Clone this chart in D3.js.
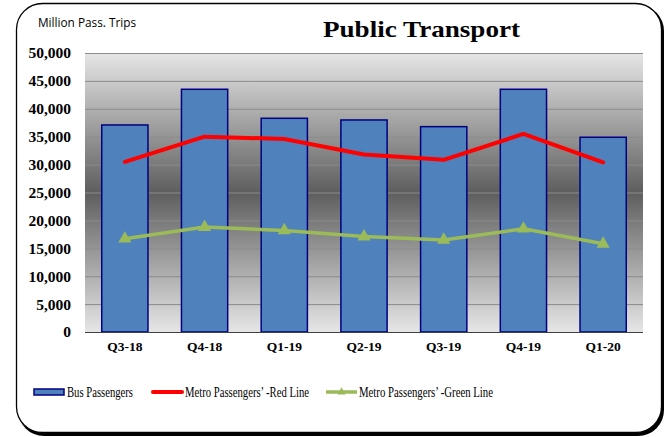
<!DOCTYPE html>
<html>
<head>
<meta charset="utf-8">
<script src="https://cdn.jsdelivr.net/npm/d3@7"></script>
<style>
  body { margin: 0; background: #fff; }
</style>
</head>
<body>
<div id="chart"></div>
<script>
// chart data
var quarters = ["Q3-18", "Q4-18", "Q1-19", "Q2-19", "Q3-19", "Q4-19", "Q1-20"];
var busPassengers = [37100, 43500, 38300, 38000, 36800, 43500, 34900];
var redLine = [30500, 35000, 34600, 31800, 30850, 35500, 30400];
var greenLine = [16700, 18800, 18200, 17100, 16500, 18500, 15800];
var yTicks = [0, 5000, 10000, 15000, 20000, 25000, 30000, 35000, 40000, 45000, 50000];

var svgWidth = 665;
var svgHeight = 437;

var chartMargin = { top: 53, right: 22, bottom: 105, left: 85 };
var chartWidth = svgWidth - chartMargin.left - chartMargin.right;
var chartHeight = svgHeight - chartMargin.top - chartMargin.bottom;

var serif = "'Liberation Serif', 'Times New Roman', serif";

var svg = d3.select("#chart")
    .append("svg")
    .attr("width", svgWidth)
    .attr("height", svgHeight);

// outer frame with shadow on right/bottom
svg.append("rect")
    .attr("x", 18).attr("y", 5)
    .attr("width", 646).attr("height", 431)
    .attr("rx", 26)
    .attr("fill", "#000");
svg.append("rect")
    .attr("x", 16.5).attr("y", 3.5)
    .attr("width", 645).attr("height", 429)
    .attr("rx", 26)
    .attr("fill", "#fff")
    .attr("stroke", "#000")
    .attr("stroke-width", 1.3);

// plot background gradient
var defs = svg.append("defs");
var grad = defs.append("linearGradient")
    .attr("id", "plotBg")
    .attr("x1", 0).attr("y1", 0).attr("x2", 0).attr("y2", 1);
grad.append("stop").attr("offset", "0%").attr("stop-color", "#e6e6e6");
grad.append("stop").attr("offset", "50%").attr("stop-color", "#5e5e5e");
grad.append("stop").attr("offset", "100%").attr("stop-color", "#e6e6e6");

var chartGroup = svg.append("g")
    .attr("transform", `translate(${chartMargin.left}, ${chartMargin.top})`);

chartGroup.append("rect")
    .attr("width", chartWidth)
    .attr("height", chartHeight)
    .attr("fill", "url(#plotBg)");

var xBandScale = d3.scaleBand()
    .domain(quarters)
    .range([0, chartWidth])
    .paddingInner(0.42)
    .paddingOuter(0.21);

var yLinearScale = d3.scaleLinear()
    .domain([0, 50000])
    .range([chartHeight, 0]);

// gridlines
chartGroup.append("g")
    .selectAll("line")
    .data(yTicks.filter(d => d > 0))
    .enter()
    .append("line")
    .attr("x1", 0)
    .attr("x2", chartWidth)
    .attr("y1", d => yLinearScale(d) + 0.5)
    .attr("y2", d => yLinearScale(d) + 0.5)
    .attr("stroke", "#8c8c8c")
    .attr("stroke-width", 1);

// y axis labels
var leftAxis = d3.axisLeft(yLinearScale)
    .tickValues(yTicks)
    .tickSize(0)
    .tickPadding(14)
    .tickFormat(d3.format(","));

var yAxis = chartGroup.append("g").call(leftAxis)
    .attr("font-family", null)
    .attr("font-size", null);
yAxis.select(".domain").remove();
yAxis.selectAll("text")
    .style("font-family", serif)
    .style("font-weight", "bold")
    .style("font-size", "15.5px")
    .attr("fill", "#000");

// bars
chartGroup.append("g").selectAll("rect")
    .data(busPassengers)
    .enter()
    .append("rect")
    .attr("x", (d, i) => xBandScale(quarters[i]))
    .attr("y", d => yLinearScale(d))
    .attr("width", xBandScale.bandwidth())
    .attr("height", d => chartHeight - yLinearScale(d))
    .attr("fill", "#4f81bd")
    .attr("stroke", "#000080")
    .attr("stroke-width", 1.5);

// x baseline
chartGroup.append("line")
    .attr("x1", 0).attr("x2", chartWidth)
    .attr("y1", chartHeight + 0.5).attr("y2", chartHeight + 0.5)
    .attr("stroke", "#404040")
    .attr("stroke-width", 1);

var bottomAxis = d3.axisBottom(xBandScale).tickSize(0).tickPadding(9);
var xAxis = chartGroup.append("g")
    .attr("transform", `translate(0, ${chartHeight})`)
    .call(bottomAxis)
    .attr("font-family", null)
    .attr("font-size", null);
xAxis.select(".domain").remove();
xAxis.selectAll("text")
    .style("font-family", serif)
    .style("font-weight", "bold")
    .style("font-size", "13.5px")
    .attr("fill", "#000");

var xCenter = (d, i) => xBandScale(quarters[i]) + xBandScale.bandwidth() / 2;

var lineGen = d3.line()
    .x(xCenter)
    .y(d => yLinearScale(d));

chartGroup.append("path")
    .datum(redLine)
    .attr("d", lineGen)
    .attr("fill", "none")
    .attr("stroke", "#ff0000")
    .attr("stroke-width", 4)
    .attr("stroke-linecap", "round")
    .attr("stroke-linejoin", "round");

chartGroup.append("path")
    .datum(greenLine)
    .attr("d", lineGen)
    .attr("fill", "none")
    .attr("stroke", "#9bbb59")
    .attr("stroke-width", 3.5)
    .attr("stroke-linejoin", "round");

var triangle = d3.symbol().type(d3.symbolTriangle).size(75);

chartGroup.append("g").selectAll("path")
    .data(greenLine)
    .enter()
    .append("path")
    .attr("d", triangle)
    .attr("transform", (d, i) => `translate(${xCenter(d, i)}, ${yLinearScale(d)})`)
    .attr("fill", "#9bbb59");

// titles
svg.append("text")
    .attr("x", 38).attr("y", 27)
    .style("font-family", "'Open Sans', 'Liberation Sans', sans-serif")
    .style("font-size", "11.8px")
    .attr("fill", "#000")
    .text("Million Pass. Trips");

svg.append("text")
    .attr("x", 323).attr("y", 37)
    .attr("textLength", 197)
    .attr("lengthAdjust", "spacingAndGlyphs")
    .style("font-family", serif)
    .style("font-weight", "bold")
    .style("font-size", "23px")
    .attr("fill", "#000")
    .text("Public Transport");

// legend
var legend = svg.append("g").attr("transform", "translate(0, 392)");

legend.append("rect")
    .attr("x", 34).attr("y", -3)
    .attr("width", 30).attr("height", 6)
    .attr("fill", "#4f81bd")
    .attr("stroke", "#000080")
    .attr("stroke-width", 1.5);
legend.append("text")
    .attr("x", 67).attr("y", 5)
    .attr("textLength", 66)
    .attr("lengthAdjust", "spacingAndGlyphs")
    .style("font-family", serif).style("font-size", "14px")
    .text("Bus Passengers");

legend.append("line")
    .attr("x1", 153).attr("x2", 182)
    .attr("stroke", "#ff0000").attr("stroke-width", 4)
    .attr("stroke-linecap", "round");
legend.append("text")
    .attr("x", 185).attr("y", 5)
    .attr("textLength", 124)
    .attr("lengthAdjust", "spacingAndGlyphs")
    .style("font-family", serif).style("font-size", "14px")
    .text("Metro Passengers\u2019 -Red Line");

legend.append("line")
    .attr("x1", 326).attr("x2", 357)
    .attr("stroke", "#9bbb59").attr("stroke-width", 3.5);
legend.append("path")
    .attr("d", d3.symbol().type(d3.symbolTriangle).size(30))
    .attr("transform", "translate(341.5, 0)")
    .attr("fill", "#9bbb59");
legend.append("text")
    .attr("x", 359).attr("y", 5)
    .attr("textLength", 134)
    .attr("lengthAdjust", "spacingAndGlyphs")
    .style("font-family", serif).style("font-size", "14px")
    .text("Metro Passengers\u2019 -Green Line");
</script>
</body>
</html>
